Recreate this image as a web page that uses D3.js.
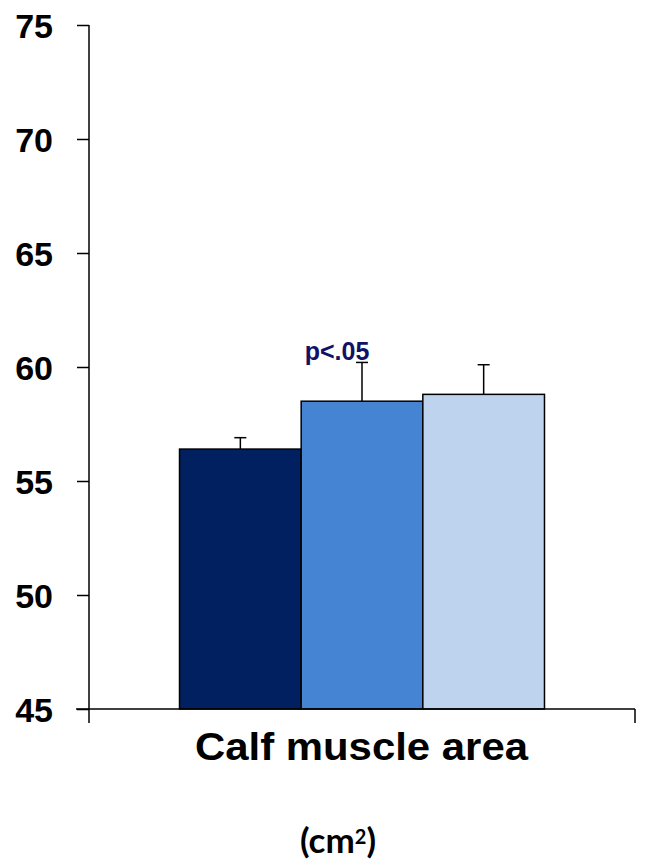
<!DOCTYPE html>
<html><head><meta charset="utf-8">
<script src="https://cdn.jsdelivr.net/npm/d3@7"></script>
<style>body{margin:0;background:#fff}</style>
</head><body>
<svg id="c" width="661" height="862"></svg>
<script>
const categories = ["Calf muscle area"];
const series = ["Group 1", "Group 2", "Group 3"];
const values = [56.4, 58.5, 58.8];
const errors = [0.5, 1.7, 1.3];
const yTicks = [45, 50, 55, 60, 65, 70, 75];
const colors = ["#00205F", "#4584D3", "#BDD3EE"];
const annotation = "p<.05";

const svg = d3.select("#c");
const y = d3.scaleLinear().domain([45, 75]).range([709, 25]);
const x0 = d3.scaleBand().domain(categories).range([89, 635]).paddingOuter(0.248).paddingInner(0);
const x1 = d3.scaleBand().domain(series).range([0, x0.bandwidth()]);

// y axis
const yAxis = d3.axisLeft(y).tickValues(yTicks).tickSize(12).tickFormat(d3.format("d"));
const gy = svg.append("g").attr("transform", "translate(89,0)").call(yAxis);
gy.select(".domain").attr("stroke", "#000").attr("stroke-width", 1.5).attr("d", "M0,25V709");
gy.selectAll(".tick line").attr("stroke", "#000").attr("stroke-width", 1.5);
gy.selectAll(".tick text").attr("x", -36).attr("dy", "0.36em")
  .style("font-family", "Liberation Sans, Arial, sans-serif").style("font-weight", "bold").style("font-size", "34px").attr("fill", "#000");

// bars
const g = svg.append("g").attr("transform", `translate(${x0(categories[0])},0)`);
series.forEach((s, i) => {
  const bx = x1(s), bw = x1.bandwidth();
  const cx = bx + bw / 2;
  g.append("line").attr("x1", cx).attr("x2", cx).attr("y1", y(values[i])).attr("y2", y(values[i] + errors[i]))
    .attr("stroke", "#000").attr("stroke-width", 1.5);
  g.append("line").attr("x1", cx - 6).attr("x2", cx + 6).attr("y1", y(values[i] + errors[i])).attr("y2", y(values[i] + errors[i]))
    .attr("stroke", "#000").attr("stroke-width", 1.5);
  g.append("rect").attr("x", bx).attr("y", y(values[i])).attr("width", bw).attr("height", y(45) - y(values[i]))
    .attr("fill", colors[i]).attr("stroke", "#000").attr("stroke-width", 1.5);
});

// annotation
g.append("text").attr("x", x1(series[1]) + x1.bandwidth() / 2 - 25).attr("y", y(values[1] + errors[1]) - 2)
  .attr("text-anchor", "middle").attr("fill", "#111166")
  .style("font-family", "Liberation Sans, Arial, sans-serif").style("font-weight", "bold").style("font-size", "25px")
  .text(annotation);

// x axis
const gx = svg.append("g").attr("transform", "translate(0,709)");
gx.append("line").attr("x1", 76).attr("x2", 635).attr("stroke", "#000").attr("stroke-width", 1.5);
[89, 635].forEach(t => gx.append("line").attr("x1", t).attr("x2", t).attr("y1", 0).attr("y2", 14).attr("stroke", "#000").attr("stroke-width", 1.5));

svg.append("text").attr("x", 195).attr("y", 760)
  .attr("textLength", 333).attr("lengthAdjust", "spacingAndGlyphs").attr("fill", "#000")
  .style("font-family", "Liberation Sans, Arial, sans-serif").style("font-weight", "bold").style("font-size", "39px")
  .text(categories[0]);

const unit = svg.append("text").attr("x", 338).attr("y", 853).attr("text-anchor", "middle").attr("fill", "#000")
  .style("font-family", "Lato, 'Open Sans', sans-serif").style("font-weight", "bold").style("font-size", "35px");
unit.append("tspan").text("(cm");
unit.append("tspan").attr("dy", -9).style("font-size", "20px").text("2");
unit.append("tspan").attr("dy", 9).text(")");
</script>
</body></html>
